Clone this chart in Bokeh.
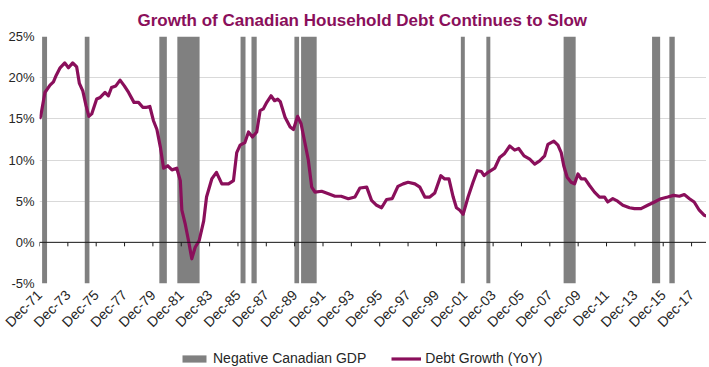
import math
from bokeh.plotting import figure
from bokeh.layouts import column
from bokeh.models import FixedTicker, Range1d, Legend, LegendItem, Span
from bokeh.embed import file_html
from bokeh.resources import INLINE

# ---- data ----
# Household debt growth, year over year (%), by decimal year
debt_years = [
    1971.92, 1972.0, 1972.3, 1972.66, 1972.9, 1973.1, 1973.37, 1973.7, 1973.96, 1974.26,
    1974.54, 1974.73, 1974.97, 1975.2, 1975.4, 1975.6, 1975.95, 1976.2, 1976.54, 1976.78,
    1977.0, 1977.3, 1977.6, 1977.9, 1978.2, 1978.58, 1978.9, 1979.2, 1979.47, 1979.7,
    1979.95, 1980.2, 1980.44, 1980.67, 1980.97, 1981.26, 1981.6, 1981.85, 1981.96, 1982.2,
    1982.43, 1982.66, 1982.9, 1983.18, 1983.5, 1983.7, 1984.07, 1984.4, 1984.78, 1985.25,
    1985.6, 1985.83, 1986.07, 1986.4, 1986.66, 1986.94, 1987.24, 1987.48, 1987.7, 1987.95,
    1988.25, 1988.5, 1988.72, 1988.9, 1989.24, 1989.6, 1989.83, 1990.13, 1990.37, 1990.65,
    1990.88, 1991.12, 1991.35, 1991.82, 1992.3, 1992.76, 1993.2, 1993.7, 1994.17, 1994.52,
    1995.0, 1995.34, 1995.7, 1996.05, 1996.4, 1996.8, 1997.2, 1997.57, 1997.92, 1998.4,
    1998.75, 1999.1, 1999.45, 1999.8, 2000.23, 2000.5, 2000.8, 2001.1, 2001.33, 2001.57,
    2001.8, 2002.15, 2002.5, 2002.8, 2003.09, 2003.28, 2003.56, 2004.03, 2004.38, 2004.73,
    2005.09, 2005.44, 2005.72, 2006.1, 2006.5, 2006.85, 2007.2, 2007.55, 2007.78, 2008.2,
    2008.49, 2008.72, 2008.9, 2009.14, 2009.42, 2009.66, 2009.9, 2010.13, 2010.4, 2010.72,
    2011.07, 2011.42, 2011.78, 2012.0, 2012.36, 2012.7, 2013.07, 2013.54, 2013.89, 2014.35,
    2014.82, 2015.3, 2015.76, 2016.23, 2016.65, 2017.06, 2017.4, 2017.77, 2018.1, 2018.46,
    2018.8, 2018.97,
]
debt_growth = [
    15.0, 15.3, 18.2, 19.1, 19.5, 20.3, 21.2, 21.8, 21.2, 21.8,
    21.3, 19.3, 18.4, 16.6, 15.3, 15.6, 17.4, 17.6, 18.2, 17.8,
    18.8, 19.0, 19.7, 19.0, 18.2, 17.0, 17.0, 16.4, 16.4, 16.5,
    14.8, 13.7, 11.6, 9.0, 9.3, 8.8, 9.0, 7.5, 3.9, 2.2,
    0.2, -2.0, -0.6, 0.2, 2.6, 5.5, 7.7, 8.5, 7.1, 7.1,
    7.5, 10.9, 11.8, 12.1, 13.4, 12.8, 13.4, 16.0, 16.2, 17.0,
    17.8, 17.2, 17.4, 17.1, 15.2, 14.0, 13.7, 15.3, 14.4, 12.0,
    10.0, 6.7, 6.1, 6.2, 5.9, 5.6, 5.6, 5.3, 5.5, 6.6,
    6.7, 5.1, 4.5, 4.2, 5.2, 5.3, 6.8, 7.1, 7.3, 7.1,
    6.7, 5.5, 5.5, 6.0, 8.1, 7.7, 7.7, 5.5, 4.2, 3.9,
    3.4, 5.5, 7.3, 8.7, 8.6, 8.1, 8.5, 9.0, 10.3, 10.8,
    11.7, 11.2, 11.4, 10.5, 10.1, 9.5, 9.9, 10.5, 11.9, 12.3,
    11.8, 10.9, 9.3, 7.9, 7.3, 7.1, 8.3, 7.7, 7.7, 6.9,
    6.1, 5.5, 5.5, 4.9, 5.3, 5.0, 4.5, 4.2, 4.1, 4.1,
    4.5, 4.9, 5.3, 5.5, 5.7, 5.6, 5.8, 5.3, 4.9, 3.9,
    3.3, 3.2,
]
# Periods of negative Canadian GDP (start, end as decimal years)
neg_gdp_start = [1972.10, 1975.11, 1980.37, 1981.64, 1986.10, 1986.87, 1989.90,
                 1990.37, 2001.64, 2003.44, 2008.89, 2015.13, 2016.35]
neg_gdp_end = [1972.45, 1975.44, 1980.90, 1983.21, 1986.45, 1987.24, 1990.23,
               1991.47, 2001.92, 2003.72, 2009.74, 2015.70, 2016.73]

x_tick_labels = ["Dec-71", "Dec-73", "Dec-75", "Dec-77", "Dec-79", "Dec-81", "Dec-83",
                 "Dec-85", "Dec-87", "Dec-89", "Dec-91", "Dec-93", "Dec-95", "Dec-97",
                 "Dec-99", "Dec-01", "Dec-03", "Dec-05", "Dec-07", "Dec-09", "Dec-11",
                 "Dec-13", "Dec-15", "Dec-17"]
y_ticks = [-5, 0, 5, 10, 15, 20, 25]
y_tick_labels = ["-5%", "0%", "5%", "10%", "15%", "20%", "25%"]

title_text = "Growth of Canadian Household Debt Continues to Slow"
legend_labels = ["Negative Canadian GDP", "Debt Growth (YoY)"]
MAROON = "#8A0F5B"
GREY = "#808080"
FONT = "Liberation Sans"


def label_to_year(lbl):
    yy = int(lbl[-2:])
    return (2000 + yy if yy < 50 else 1900 + yy) + 11.0 / 12.0


x_ticks = [label_to_year(l) for l in x_tick_labels]
x_lo, x_hi = x_ticks[0], debt_years[-1]
y_lo, y_hi = y_ticks[0], y_ticks[-1]

W = 706
p = figure(width=W, height=338, output_backend="svg", toolbar_location=None,
           x_range=Range1d(x_lo, x_hi), y_range=Range1d(y_lo, y_hi),
           min_border_left=39, min_border_right=0, min_border_top=36, min_border_bottom=55)
p.outline_line_color = None
p.background_fill_color = "white"
p.border_fill_color = "white"

# title
p.title.text = title_text
p.title.align = "left"
p.title.offset = 98
p.title.text_color = MAROON
p.title.text_font = FONT
p.title.text_font_size = "17px"
p.title.text_font_style = "bold"
p.title.standoff = 14

# grids
p.xgrid.visible = False
p.ygrid.grid_line_color = "#D9D9D9"
p.ygrid.grid_line_width = 1
p.ygrid.ticker = FixedTicker(ticks=y_ticks)

# y axis
p.yaxis.ticker = FixedTicker(ticks=y_ticks)
p.yaxis.major_label_overrides = {t: l for t, l in zip(y_ticks, y_tick_labels)}
p.yaxis.axis_line_color = None
p.yaxis.major_tick_line_color = None
p.yaxis.minor_tick_line_color = None
p.yaxis.major_tick_out = 0
p.yaxis.major_tick_in = 0
p.yaxis.major_label_text_font = FONT
p.yaxis.major_label_text_font_size = "13px"
p.yaxis.major_label_text_color = "#262626"
p.yaxis.major_label_standoff = 5

# x axis (labels at the bottom)
p.xaxis.ticker = FixedTicker(ticks=x_ticks)
p.xaxis.major_label_overrides = {t: l for t, l in zip(x_ticks, x_tick_labels)}
p.xaxis.major_label_orientation = math.pi / 4
p.xaxis.axis_line_color = None
p.xaxis.major_tick_line_color = None
p.xaxis.minor_tick_line_color = None
p.xaxis.major_tick_out = 0
p.xaxis.major_tick_in = 0
p.xaxis.major_label_text_font = FONT
p.xaxis.major_label_text_font_size = "14px"
p.xaxis.major_label_text_color = "#262626"
p.xaxis.major_label_standoff = 9

# negative GDP bars
p.quad(left=neg_gdp_start, right=neg_gdp_end, bottom=y_lo, top=y_hi,
       fill_color=GREY, line_color=None)

# axis line at zero with downward ticks
p.add_layout(Span(location=0, dimension="width", line_color="#1a1a1a", line_width=1))
tick_len = 4 * (y_hi - y_lo) / 247.0
p.segment(x0=x_ticks, y0=[0] * len(x_ticks), x1=x_ticks, y1=[-tick_len] * len(x_ticks),
          line_color="#1a1a1a", line_width=1)

# debt growth line
p.line(debt_years, debt_growth, line_color=MAROON, line_width=3.2, line_join="round")

# ---- legend strip below the chart (same series, drawn outside its view) ----
pl = figure(width=W, height=28, output_backend="svg", toolbar_location=None,
            x_range=Range1d(0, 1), y_range=Range1d(0, 1),
            x_axis_type=None, y_axis_type=None,
            min_border_left=0, min_border_right=0, min_border_top=0, min_border_bottom=0)
pl.outline_line_color = None
pl.xgrid.visible = False
pl.ygrid.visible = False
leg_bar = pl.quad(left=neg_gdp_start, right=neg_gdp_end, bottom=y_lo, top=y_hi,
                  fill_color=GREY, line_color=None)
leg_line = pl.line(debt_years, debt_growth, line_color=MAROON, line_width=3.2)
legend = Legend(items=[LegendItem(label=legend_labels[0], renderers=[leg_bar]),
                       LegendItem(label=legend_labels[1], renderers=[leg_line])],
                orientation="horizontal", location=(140, 0),
                label_text_font=FONT, label_text_font_size="14px",
                label_text_color="#262626",
                glyph_width=30, glyph_height=9, label_standoff=4, spacing=25,
                padding=0, margin=0, border_line_color=None,
                background_fill_alpha=0)
pl.add_layout(legend)

layout = column(p, pl, spacing=0)
open("out.html", "w").write(file_html(layout, INLINE))
